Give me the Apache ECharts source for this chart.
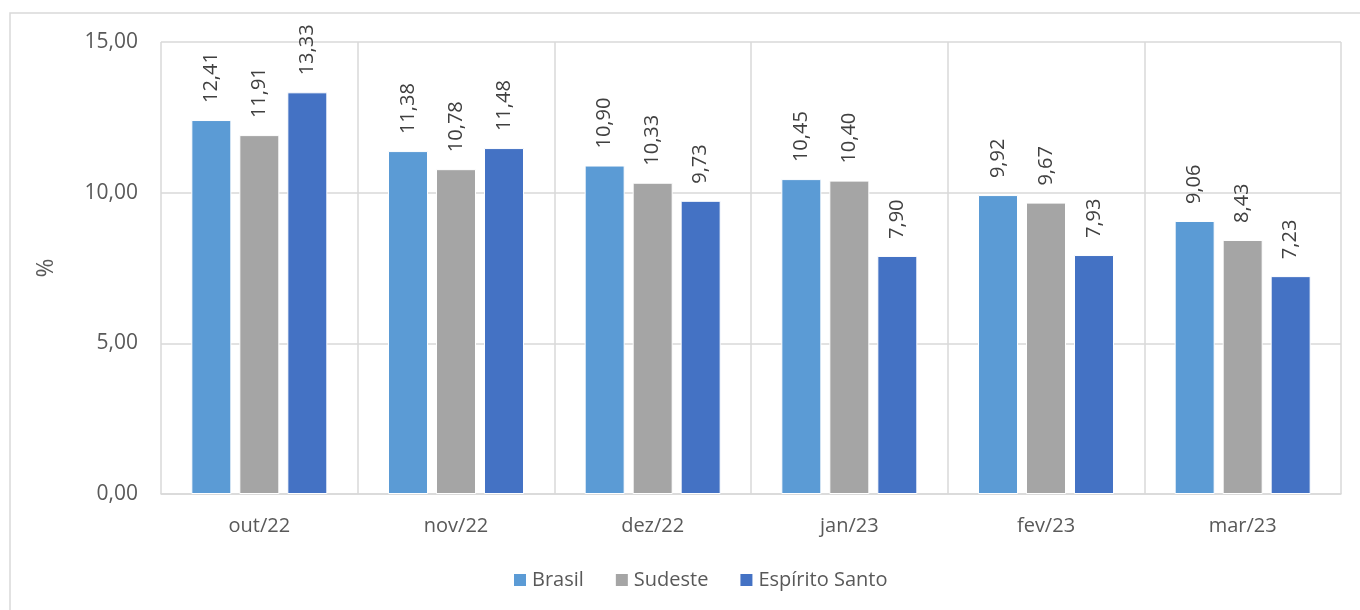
<!DOCTYPE html>
<html>
<head>
<meta charset="utf-8">
<script src="https://cdn.jsdelivr.net/npm/echarts@6/dist/echarts.min.js"></script>
<style>
  html, body { margin: 0; padding: 0; background: #fff; }
  #chart { width: 1360px; height: 610px; }
</style>
</head>
<body>
<div id="chart"></div>
<script>
const categories = ['out/22', 'nov/22', 'dez/22', 'jan/23', 'fev/23', 'mar/23'];
const brasil = [12.41, 11.38, 10.90, 10.45, 9.92, 9.06];
const sudeste = [11.91, 10.78, 10.33, 10.40, 9.67, 8.43];
const espiritoSanto = [13.33, 11.48, 9.73, 7.90, 7.93, 7.23];

const FONT = '"Open Sans", "Liberation Sans", sans-serif';
const TEXT = '#595959';

const fmt = (v) => v.toFixed(2).replace('.', ',');

const chart = echarts.init(document.getElementById('chart'));

function makeSeries(name, data, color) {
  return {
    name,
    type: 'bar',
    data,
    barWidth: 40,
    barGap: '20%',
    itemStyle: { color, borderColor: '#fff', borderWidth: 1 },
    label: {
      show: true,
      position: 'top',
      rotate: 90,
      align: 'left',
      verticalAlign: 'middle',
      distance: 17,
      color: '#404040',
      fontFamily: FONT,
      fontSize: 20,
      formatter: (p) => fmt(p.value)
    }
  };
}

chart.setOption({
  animation: false,
  textStyle: { fontFamily: FONT },
  graphic: [{
    type: 'rect',
    shape: { x: 10, y: 13, width: 1360, height: 620 },
    style: { fill: 'none', stroke: '#d9d9d9', lineWidth: 1.5 },
    silent: true
  }],
  grid: { left: 161, right: 19, top: 42, bottom: 116, containLabel: false },
  legend: {
    bottom: 15,
    left: 507,
    itemWidth: 14,
    itemHeight: 14,
    itemGap: 30,
    icon: 'rect',
    textStyle: { color: TEXT, fontSize: 20, fontFamily: FONT }
  },
  xAxis: {
    type: 'category',
    data: categories,
    axisLine: { show: true, lineStyle: { color: '#d9d9d9', width: 1.5 } },
    axisTick: { show: false },
    axisLabel: { color: TEXT, fontSize: 20, fontFamily: FONT, margin: 22 },
    splitLine: { show: true, interval: 0, lineStyle: { color: '#d9d9d9', width: 1.5 } }
  },
  yAxis: {
    type: 'value',
    min: 0,
    max: 15,
    interval: 5,
    name: '%',
    nameLocation: 'middle',
    nameGap: 103,
    nameRotate: 90,
    nameTextStyle: { color: TEXT, fontSize: 23, fontFamily: FONT },
    axisLine: { show: false },
    axisTick: { show: false },
    axisLabel: { color: TEXT, fontSize: 21, fontFamily: FONT, margin: 23, formatter: fmt },
    splitLine: { lineStyle: { color: '#d9d9d9', width: 1.5 } }
  },
  series: [
    makeSeries('Brasil', brasil, '#5b9bd5'),
    makeSeries('Sudeste', sudeste, '#a5a5a5'),
    makeSeries('Espírito Santo', espiritoSanto, '#4472c4')
  ]
});
</script>
</body>
</html>
